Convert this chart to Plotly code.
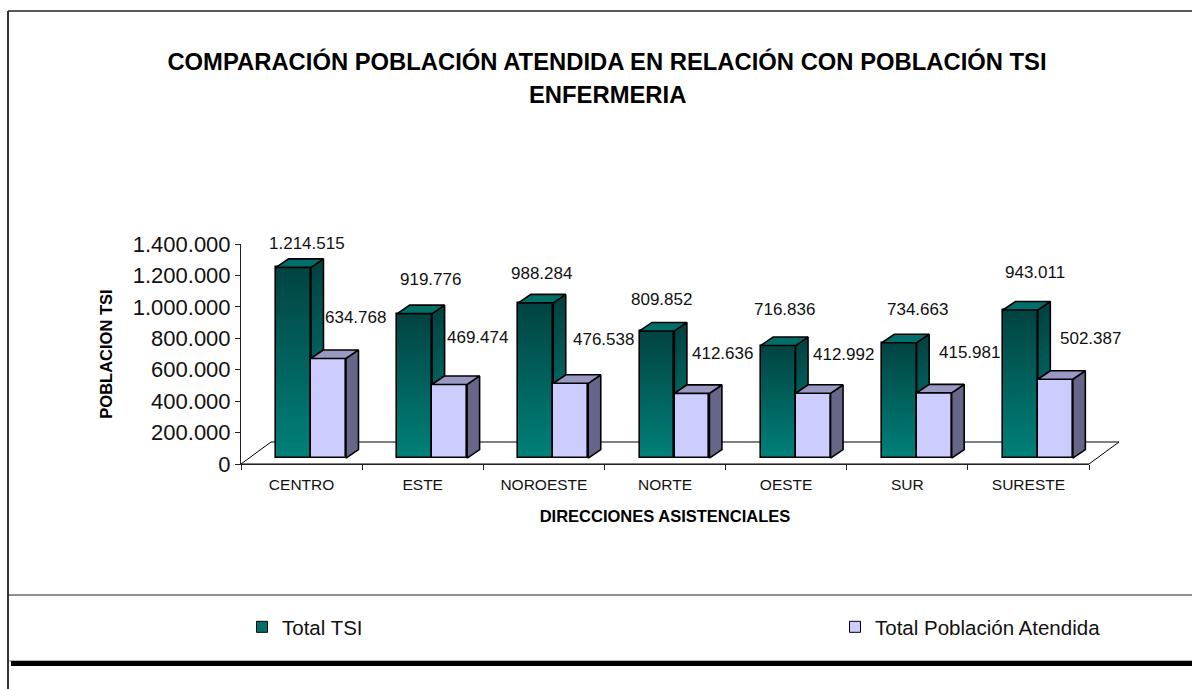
import plotly.graph_objects as go

categories = ["CENTRO", "ESTE", "NOROESTE", "NORTE", "OESTE", "SUR", "SURESTE"]
total_tsi = [1214515, 919776, 988284, 809852, 716836, 734663, 943011]
total_atendida = [634768, 469474, 476538, 412636, 412992, 415981, 502387]
y_ticks = [0, 200000, 400000, 600000, 800000, 1000000, 1200000, 1400000]
y_tick_labels = ["0", "200.000", "400.000", "600.000", "800.000", "1.000.000", "1.200.000", "1.400.000"]

# ---- layout geometry (pixels) ----
W, H = 1192, 689
L, R, T, B = 241, 1089, 244, 464
PW, PH = R - L, B - T
YMAX = 1400000
FONT = "Liberation Sans"
def px(x): return (x - L) / PW
def py(y): return (B - y) / PH
ux = 7 / PW          # x data units per pixel
uy = YMAX / PH       # y data units per pixel
LIFT = 5.8 * uy      # bars stand a little behind the front edge of the floor
DX, DY = 12.5 * ux, 8.5 * uy
BW = 0.288
OFF1, OFF2 = 0.4335, 0.7225
NF, NS = 36, 18

def mix(c1, c2, t):
    return "rgb(%d,%d,%d)" % tuple(round(a + (b - a) * t) for a, b in zip(c1, c2))
DARK, TEAL = (1, 68, 66), (0, 130, 122)

fig = go.Figure()
xs1 = [i + OFF1 for i in range(7)]
xs2 = [i + OFF2 for i in range(7)]

def poly(points_list, fill, line_w=0):
    xx, yy = [], []
    for pts in points_list:
        xx += [p[0] for p in pts] + [pts[0][0], None]
        yy += [p[1] for p in pts] + [pts[0][1], None]
    fig.add_trace(go.Scatter(x=xx, y=yy, mode="lines", fill="toself", fillcolor=fill,
                             line=dict(color="black", width=line_w), showlegend=False, hoverinfo="skip"))

def gradient_bars(xs, vals):
    for k in range(NF):
        f = 1 - k / NF
        fig.add_trace(go.Bar(x=xs, y=[v * f for v in vals], base=LIFT, width=BW,
                             marker=dict(color=mix(TEAL, DARK, f), line=dict(width=0)),
                             showlegend=False, hoverinfo="skip"))

# front faces
gradient_bars(xs1, total_tsi)
fig.add_trace(go.Bar(x=xs1, y=total_tsi, base=LIFT, width=BW, name="Total TSI",
                     marker=dict(color="rgba(0,0,0,0)", line=dict(color="black", width=1.6)),
                     showlegend=False))
fig.add_trace(go.Bar(x=xs2, y=total_atendida, base=LIFT, width=BW, name="Total Población Atendida",
                     marker=dict(color="#CCCCFF", line=dict(color="black", width=1.6)),
                     showlegend=False))

# TSI side faces: only the part rising above the neighbouring bar is visible
for k in range(NS):
    f = 1 - k / NS
    pts = []
    for x, v, a in zip(xs1, total_tsi, total_atendida):
        top = LIFT + v * f
        bot = LIFT + a
        if top > bot:
            xr = x + BW / 2
            pts.append([(xr, bot), (xr + DX, bot + DY), (xr + DX, top + DY), (xr, top)])
    if pts:
        poly(pts, mix(TEAL, DARK, f))
poly([[(x + BW / 2, LIFT + a), (x + BW / 2 + DX, LIFT + a + DY), (x + BW / 2 + DX, LIFT + v + DY), (x + BW / 2, LIFT + v)]
      for x, v, a in zip(xs1, total_tsi, total_atendida)], "rgba(0,0,0,0)", 1.6)
# TSI top faces
poly([[(x - BW / 2, LIFT + v), (x + BW / 2, LIFT + v), (x + BW / 2 + DX, LIFT + v + DY), (x - BW / 2 + DX, LIFT + v + DY)]
      for x, v in zip(xs1, total_tsi)], "#006F6A", 1.6)
# Atendida side and top faces
poly([[(x + BW / 2, LIFT), (x + BW / 2 + DX, LIFT + DY), (x + BW / 2 + DX, LIFT + v + DY), (x + BW / 2, LIFT + v)]
      for x, v in zip(xs2, total_atendida)], "#666688", 1.6)
poly([[(x - BW / 2, LIFT + v), (x + BW / 2, LIFT + v), (x + BW / 2 + DX, LIFT + v + DY), (x - BW / 2 + DX, LIFT + v + DY)]
      for x, v in zip(xs2, total_atendida)], "#9999C4", 1.6)

# legend entries, one legend each so they can sit far apart as in the original
fig.add_trace(go.Scatter(x=[None], y=[None], mode="markers", name="Total TSI", legend="legend",
                         marker=dict(symbol="square", size=11, color="#016F6A", line=dict(color="black", width=1))))
fig.add_trace(go.Scatter(x=[None], y=[None], mode="markers", name="Total Población Atendida", legend="legend2",
                         marker=dict(symbol="square", size=11, color="#CCCCFF", line=dict(color="black", width=1))))

# data labels: centre of each label in pixels, as placed in the original
lab1 = [(307, 243), (430, 280), (542, 273), (662, 299), (784, 310), (917, 310), (1035, 273)]
lab2 = [(355, 318), (477, 337), (604, 339), (723, 353), (843, 355), (969, 353), (1091, 339)]
annotations = []
def label(xs, vals, pos):
    for x, v, (lx, ly) in zip(xs, vals, pos):
        ax = L + x * PW / 7
        ay = B - v / uy
        annotations.append(dict(x=x, y=v, xref="x", yref="y", text=f"{v:,}".replace(",", "."), showarrow=False,
                                xshift=lx - ax, yshift=ay - ly, xanchor="center", yanchor="middle",
                                font=dict(family=FONT, size=17, color="#111")))
label(xs1, total_tsi, lab1)
label(xs2, total_atendida, lab2)
annotations.append(dict(x=px(607), y=py(94), xref="paper", yref="paper", text="<b>ENFERMERIA</b>", showarrow=False,
                        xanchor="center", yanchor="middle", font=dict(family=FONT, size=23.8, color="black")))

def line(x0, y0, x1, y1, color="black", width=1):
    return dict(type="line", xref="paper", yref="paper", x0=px(x0), y0=py(y0), x1=px(x1), y1=py(y1),
                line=dict(color=color, width=width), layer="below")

shapes = [
    dict(type="path", xref="paper", yref="paper", layer="below", fillcolor="white", line=dict(color="black", width=1),
         path=f"M {px(L)} {py(B)} L {px(R)} {py(B)} L {px(1119)} {py(442)} L {px(271)} {py(442)} Z"),
    line(8, 11, W, 11, "#222", 1.5),
    line(8, 11, 8, H, "#333", 2),
    line(8, 595, W, 595, "#222", 1.2),
    line(9, 661, W, 661, "#777", 1),
    line(11, 663.5, W, 663.5, "black", 5),
]

legend_common = dict(orientation="h", y=py(627), xanchor="left", yanchor="middle",
                     bgcolor="rgba(0,0,0,0)", borderwidth=0, font=dict(family=FONT, size=20.5, color="#111"))

fig.update_layout(
    width=W, height=H, autosize=False, showlegend=True,
    margin=dict(l=L, r=W - R, t=T, b=H - B, pad=0),
    paper_bgcolor="white", plot_bgcolor="rgba(0,0,0,0)",
    barmode="overlay", bargap=0,
    font=dict(family=FONT, color="black"),
    title=dict(text="<b>COMPARACIÓN POBLACIÓN ATENDIDA EN RELACIÓN CON POBLACIÓN TSI</b>",
               xref="container", yref="container", x=607 / W, y=1 - 61.5 / H, xanchor="center", yanchor="middle",
               font=dict(family=FONT, size=23.8, color="black")),
    xaxis=dict(range=[0, 7], tickmode="array", tickvals=[i + 0.5 for i in range(7)], ticktext=categories,
               ticks="", showgrid=False, zeroline=False, showline=True, linecolor="#222", linewidth=1,
               ticklabelstandoff=6,
               tickfont=dict(family=FONT, size=15.5, color="#111"),
               minor=dict(tickmode="array", tickvals=list(range(8)), ticks="outside", ticklen=5, tickcolor="#222", tickwidth=1, showgrid=False),
               title=dict(text="<b>DIRECCIONES ASISTENCIALES</b>", standoff=18, font=dict(family=FONT, size=16.5, color="black"))),
    yaxis=dict(range=[0, YMAX], tickmode="array", tickvals=y_ticks, ticktext=y_tick_labels,
               ticks="outside", ticklen=5, tickcolor="#222", tickwidth=1, showgrid=False, zeroline=False,
               showline=True, linecolor="#222", linewidth=1,
               tickfont=dict(family=FONT, size=22, color="#111"),
               title=dict(text="<b>POBLACION TSI</b>", standoff=15, font=dict(family=FONT, size=16.5, color="black"))),
    legend=dict(x=px(242), **legend_common),
    legend2=dict(x=px(835), **legend_common),
    annotations=annotations, shapes=shapes,
)

fig.write_html("out.html", config=dict(displayModeBar=False), post_script="document.body.style.margin='0';")
